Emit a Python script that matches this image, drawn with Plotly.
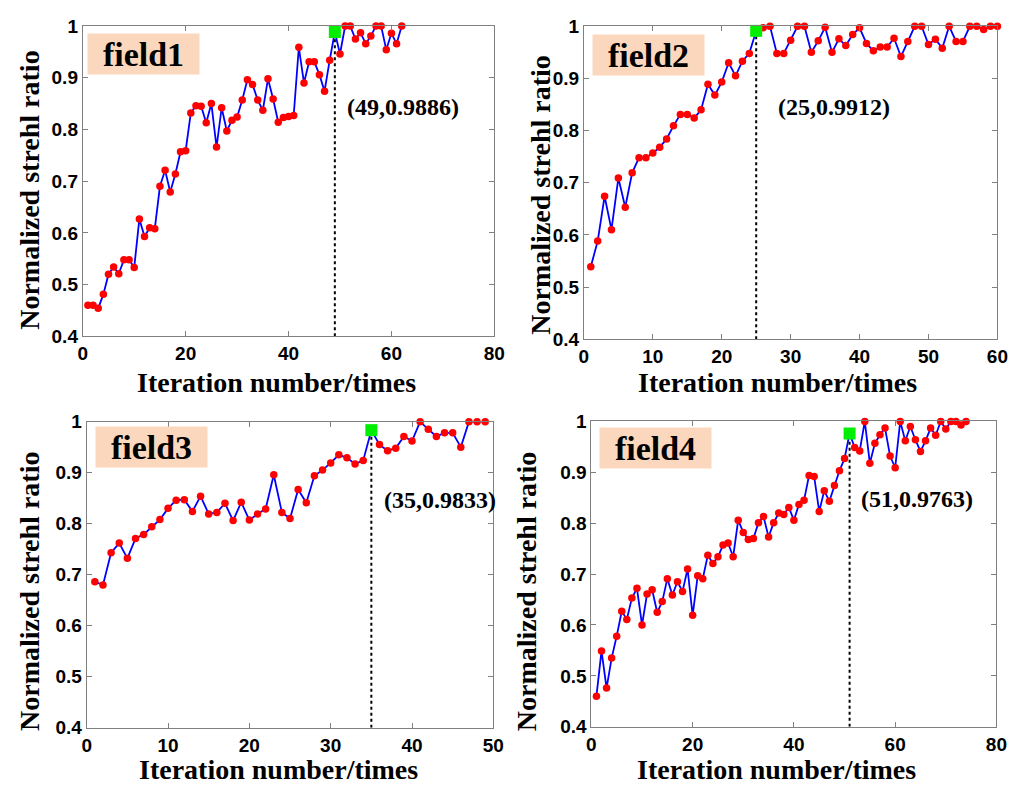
import plotly.graph_objects as go

# ---------------- data ----------------
field1_y = [0.460, 0.460, 0.454, 0.481, 0.520, 0.534, 0.521, 0.548, 0.548, 0.533,
            0.627, 0.593, 0.610, 0.608, 0.690, 0.721, 0.679, 0.714, 0.757, 0.759,
            0.832, 0.846, 0.845, 0.813, 0.850, 0.766, 0.842, 0.797, 0.818, 0.824,
            0.857, 0.896, 0.887, 0.857, 0.837, 0.898, 0.859, 0.814, 0.823, 0.825,
            0.827, 0.959, 0.890, 0.931, 0.931, 0.906, 0.874, 0.934, 0.9886, 0.946,
            1.0, 1.0, 0.975, 0.987, 0.966, 0.981, 1.0, 1.0, 0.954, 0.986,
            0.966, 1.0]
field2_y = [0.539, 0.588, 0.674, 0.610, 0.709, 0.653, 0.719, 0.748, 0.748, 0.757,
            0.768, 0.784, 0.809, 0.831, 0.831, 0.824, 0.840, 0.889, 0.868, 0.893,
            0.930, 0.905, 0.933, 0.948, 0.9912, 0.997, 1.0, 0.948, 0.948, 0.973,
            1.0, 1.0, 0.950, 0.972, 0.998, 0.950, 0.976, 0.963, 0.984, 0.997,
            0.967, 0.953, 0.960, 0.960, 0.977, 0.942, 0.971, 1.0, 1.0, 0.965,
            0.975, 0.958, 1.0, 0.971, 0.971, 1.0, 1.0, 0.994, 1.0, 1.0]
field3_y = [0.686, 0.680, 0.743, 0.762, 0.732, 0.771, 0.779, 0.794, 0.808, 0.830,
            0.846, 0.847, 0.824, 0.854, 0.819, 0.822, 0.840, 0.806, 0.842, 0.807,
            0.819, 0.829, 0.896, 0.822, 0.810, 0.867, 0.841, 0.894, 0.905, 0.919,
            0.935, 0.929, 0.917, 0.924, 0.9833, 0.955, 0.943, 0.948, 0.971, 0.962,
            1.0, 0.985, 0.971, 0.978, 0.978, 0.950, 1.0, 1.0, 1.0]
field4_y = [0.460, 0.549, 0.476, 0.535, 0.578, 0.627, 0.611, 0.653, 0.672, 0.600,
            0.661, 0.669, 0.625, 0.646, 0.691, 0.659, 0.685, 0.666, 0.710, 0.619,
            0.697, 0.691, 0.737, 0.721, 0.734, 0.757, 0.761, 0.734, 0.806, 0.782,
            0.768, 0.770, 0.801, 0.813, 0.773, 0.801, 0.820, 0.817, 0.831, 0.806,
            0.837, 0.845, 0.894, 0.892, 0.823, 0.864, 0.843, 0.874, 0.903, 0.927,
            0.9763, 0.949, 0.942, 1.0, 0.918, 0.957, 0.974, 0.987, 0.932, 0.909,
            1.0, 0.962, 0.990, 0.964, 0.941, 0.962, 0.987, 0.973, 1.0, 0.985,
            1.0, 1.0, 0.993, 1.0]

series = [field1_y, field2_y, field3_y, field4_y]
field_names = ["field1", "field2", "field3", "field4"]
best_x = [49, 25, 35, 51]
best_y = [0.9886, 0.9912, 0.9833, 0.9763]
best_labels = ["(49,0.9886)", "(25,0.9912)", "(35,0.9833)", "(51,0.9763)"]
x_max = [80, 60, 50, 80]
x_ticks = [[0, 20, 40, 60, 80], [0, 10, 20, 30, 40, 50, 60],
           [0, 10, 20, 30, 40, 50], [0, 20, 40, 60, 80]]
y_ticks = [0.4, 0.5, 0.6, 0.7, 0.8, 0.9, 1.0]
y_ticktext = ["0.4", "0.5", "0.6", "0.7", "0.8", "0.9", "1"]
x_title = "Iteration number/times"
y_title = "Normalized strehl ratio"

# ---------------- layout geometry (pixels) ----------------
W, H = 1034, 803
# plot areas: (left, right, top, bottom) in pixels
areas = [(79, 497, 16.5, 335), (588, 1008, 16.7, 338),
         (83, 496, 422.7, 737), (595.6, 1007, 422.5, 736)]
label_pos = [(345, 100), (783, 100), (383, 503), (867, 502)]   # best-label left/center px
field_box = [(83, 24), (596, 25), (91, 427), (603, 428)]      # field box left/top px
xtitle_pos = [(276, 382), (785, 383), (278, 780), (784, 780)]
ytitle_pos = [(25, 185), (543, 190), (25, 597), (530, 597)]

def px(x):
    return x / W

def py(y):
    return 1 - y / H

serif = "Liberation Serif, Times New Roman, serif"
sans = "Liberation Sans, Arial, sans-serif"

fig = go.Figure()
layout = dict(width=W, height=H, margin=dict(l=0, r=0, t=0, b=0),
              paper_bgcolor="white", plot_bgcolor="white", showlegend=False)
annotations = []

for i in range(4):
    sfx = "" if i == 0 else str(i + 1)
    xa, ya = "x" + sfx, "y" + sfx
    yv = series[i]
    xv = list(range(1, len(yv) + 1))
    fig.add_trace(go.Scatter(x=xv, y=yv, mode="lines+markers", xaxis=xa, yaxis=ya,
                             line=dict(color="#0000ff", width=1.8),
                             marker=dict(color="#ff0000", size=7.5, symbol="circle"),
                             cliponaxis=False))
    fig.add_trace(go.Scatter(x=[best_x[i], best_x[i]], y=[0.4, best_y[i]], mode="lines",
                             xaxis=xa, yaxis=ya,
                             line=dict(color="black", width=2, dash="dot")))
    fig.add_trace(go.Scatter(x=[best_x[i]], y=[best_y[i]], mode="markers",
                             xaxis=xa, yaxis=ya, cliponaxis=False,
                             marker=dict(color="#00ee00", size=12, symbol="square")))
    l, r, t, b = areas[i]
    axis_common = dict(showline=True, linecolor="#808080", linewidth=1, mirror="allticks",
                       ticks="inside", ticklen=5, tickcolor="#808080", showgrid=False,
                       zeroline=False,
                       tickfont=dict(family=sans, size=19, color="black", weight="bold"))
    layout["xaxis" + sfx] = dict(domain=[px(l), px(r)], anchor=ya, range=[0, x_max[i]],
                                 tickvals=x_ticks[i], **axis_common)
    layout["yaxis" + sfx] = dict(domain=[py(b), py(t)], anchor=xa, range=[0.4, 1.0],
                                 tickvals=y_ticks, ticktext=y_ticktext, **axis_common)
    # best-point label
    lx, ly = label_pos[i]
    annotations.append(dict(text=best_labels[i], xref="paper", yref="paper",
                            x=px(lx), y=py(ly), xanchor="left", yanchor="middle",
                            showarrow=False,
                            font=dict(family=serif, size=24, color="black", weight="bold")))
    # field box
    fx, fy = field_box[i]
    annotations.append(dict(text=field_names[i], xref="paper", yref="paper",
                            x=px(fx), y=py(fy), xanchor="left", yanchor="top",
                            width=111, height=40, bgcolor="#fbd8bd", borderpad=0,
                            showarrow=False, align="center", valign="middle",
                            font=dict(family=serif, size=34, color="black", weight="bold")))
    # axis titles
    tx, ty = xtitle_pos[i]
    annotations.append(dict(text=x_title, xref="paper", yref="paper", x=px(tx), y=py(ty),
                            xanchor="center", yanchor="middle", showarrow=False,
                            font=dict(family=serif, size=28, color="black", weight="bold")))
    vx, vy = ytitle_pos[i]
    annotations.append(dict(text=y_title, xref="paper", yref="paper", x=px(vx), y=py(vy),
                            xanchor="center", yanchor="middle", showarrow=False, textangle=-90,
                            font=dict(family=serif, size=28, color="black", weight="bold")))

layout["annotations"] = annotations
fig.update_layout(**layout)
fig.write_html("out.html")
